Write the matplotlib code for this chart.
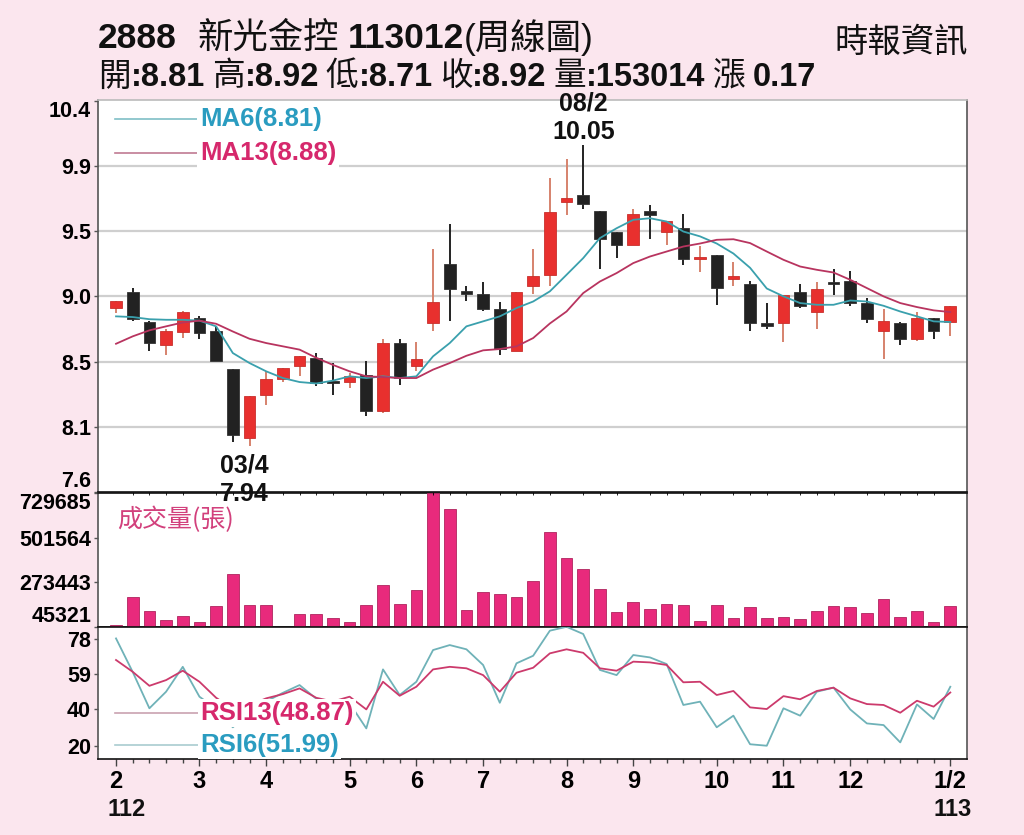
import matplotlib
matplotlib.use("Agg")
import matplotlib.pyplot as plt
import matplotlib.transforms as mtransforms
import numpy as np

# ---------------- data ----------------
opens = [8.91, 9.02, 8.81, 8.65, 8.74, 8.84, 8.75, 8.48, 8.00, 8.30,
         8.41, 8.50, 8.56, 8.40, 8.39, 8.44, 8.19, 8.66, 8.50, 8.80,
         9.22, 9.03, 9.01, 8.90, 8.61, 9.06, 9.14, 9.65, 9.70, 9.59,
         9.44, 9.35, 9.59, 9.44, 9.47, 9.25, 9.28, 9.11, 9.08, 8.80,
         8.80, 9.02, 8.88, 9.09, 9.10, 8.94, 8.75, 8.80, 8.69, 8.84, 8.81]
highs = [8.96, 9.05, 8.82, 8.76, 8.89, 8.85, 8.78, 8.48, 8.29, 8.47,
         8.49, 8.57, 8.59, 8.52, 8.45, 8.535, 8.69, 8.69, 8.67, 9.32,
         9.50, 9.06, 9.09, 8.95, 9.02, 9.32, 9.82, 9.95, 10.05, 9.59,
         9.44, 9.60, 9.63, 9.52, 9.57, 9.34, 9.28, 9.23, 9.10, 8.94,
         9.00, 9.08, 9.09, 9.18, 9.17, 8.98, 8.90, 8.81, 8.88, 8.84, 8.92]
lows = [8.875, 8.82, 8.61, 8.58, 8.70, 8.69, 8.54, 7.97, 7.94, 8.23,
        8.39, 8.43, 8.36, 8.30, 8.35, 8.15, 8.17, 8.37, 8.47, 8.745,
        8.82, 8.96, 8.89, 8.58, 8.61, 9.01, 9.06, 9.56, 9.60, 9.18,
        9.26, 9.35, 9.39, 9.35, 9.21, 9.16, 8.93, 9.06, 8.75, 8.76,
        8.67, 8.91, 8.76, 9.00, 8.92, 8.80, 8.55, 8.65, 8.68, 8.69, 8.71]
closes = [8.96, 8.83, 8.66, 8.75, 8.88, 8.73, 8.54, 8.02, 8.29, 8.41,
          8.49, 8.57, 8.38, 8.38, 8.43, 8.19, 8.66, 8.42, 8.55, 8.95,
          9.04, 9.01, 8.90, 8.62, 9.02, 9.13, 9.58, 9.68, 9.64, 9.39,
          9.35, 9.57, 9.56, 9.52, 9.25, 9.26, 9.05, 9.13, 8.80, 8.78,
          9.00, 8.92, 9.04, 9.08, 8.94, 8.83, 8.82, 8.69, 8.84, 8.75, 8.92]
ma6 = [8.85, 8.845, 8.83, 8.826, 8.826, 8.82, 8.78, 8.593, 8.523, 8.465,
       8.418, 8.39, 8.38, 8.40, 8.43, 8.418, 8.43, 8.418, 8.43, 8.57,
       8.663, 8.78, 8.815, 8.85, 8.908, 8.954, 9.025, 9.141, 9.258, 9.398,
       9.467, 9.526, 9.537, 9.514, 9.444, 9.41, 9.36, 9.29, 9.19, 9.045,
       8.99, 8.943, 8.931, 8.931, 8.961, 8.954, 8.924, 8.884, 8.85, 8.815, 8.81]
ma13 = [8.658, 8.71, 8.752, 8.78, 8.807, 8.82, 8.798, 8.744, 8.693, 8.663,
        8.64, 8.617, 8.56, 8.51, 8.465, 8.43, 8.425, 8.418, 8.418, 8.477,
        8.523, 8.574, 8.612, 8.621, 8.64, 8.698, 8.80, 8.884, 9.013, 9.094,
        9.153, 9.223, 9.269, 9.304, 9.339, 9.36, 9.386, 9.39, 9.363, 9.304,
        9.246, 9.199, 9.176, 9.157, 9.106, 9.048, 8.99, 8.943, 8.915, 8.892, 8.88]
volumes = [54000, 199000, 126400, 82800, 102600, 70700, 153000, 315500, 159000, 159000,
           40000, 109700, 109700, 89400, 69000, 159000, 258200, 164000, 232900, 729685,
           645500, 131500, 224300, 212600, 199000, 278500, 532000, 398600, 343000, 238000,
           123000, 173600, 136600, 164000, 159000, 77300, 156800, 92500, 148200, 89400,
           97500, 84300, 128000, 151800, 148200, 114600, 188800, 97500, 124900, 72200, 153014]
rsi6 = [78.2, 60.0, 40.3, 49.3, 62.8, 46.6, 40.0, 30.0, 38.0, 44.0,
        48.7, 52.9, 45.5, 42.0, 43.0, 29.4, 61.4, 47.5, 54.7, 71.9,
        74.6, 72.3, 63.8, 43.3, 64.7, 68.8, 82.4, 84.5, 80.6, 61.1,
        58.3, 69.2, 67.9, 64.3, 42.1, 43.9, 30.0, 36.3, 20.8, 20.0,
        40.3, 36.3, 49.3, 51.5, 39.7, 32.1, 31.2, 21.8, 42.4, 34.5, 51.99]
rsi13 = [66.5, 60.1, 52.5, 55.6, 60.7, 54.7, 46.0, 40.0, 42.0, 45.7,
         48.0, 51.1, 46.0, 44.0, 46.6, 39.7, 54.7, 47.1, 52.0, 61.4,
         62.8, 62.0, 58.3, 49.3, 59.6, 62.3, 70.1, 72.3, 70.4, 62.0,
         60.7, 65.6, 65.2, 63.8, 54.4, 54.7, 47.5, 49.7, 40.8, 39.9,
         46.9, 45.2, 49.7, 51.5, 45.7, 42.6, 42.1, 37.9, 44.4, 41.2, 48.87]

month_pos = [0, 5, 9, 14, 18, 22, 27, 31, 36, 40, 44, 50]
month_labels = ['2', '3', '4', '5', '6', '7', '8', '9', '10', '11', '12', '1/2']
year_labels = ['112', '113']
price_ticks = [7.62, 8.077, 8.533, 8.99, 9.447, 9.903, 10.36]
price_labels = ['7.6', '8.1', '8.5', '9.0', '9.5', '9.9', '10.4']
vol_ticks = [45321, 273443, 501564, 729685]
vol_labels = ['45321', '273443', '501564', '729685']
rsi_ticks = [20, 40, 59, 78]
rsi_labels = ['20', '40', '59', '78']

title_pieces = [('2888', 'bold', 0), ('新光金控', 'medium', 21),
                ('113012', 'bold', 8), ('(周線圖)', 'medium', 0)]
source = '時報資訊'
summary_pieces = [('開', 'medium', 0), (':8.81', 'bold', 0),
                  ('高', 'medium', 7), (':8.92', 'bold', 0),
                  ('低', 'medium', 7), (':8.71', 'bold', 0),
                  ('收', 'medium', 7), (':8.92', 'bold', 0),
                  ('量', 'medium', 7), (':153014', 'bold', 0),
                  ('漲', 'medium', 7), ('0.17', 'bold', 8)]
ma_legend = ['MA6(8.81)', 'MA13(8.88)']
rsi_legend = ['RSI13(48.87)', 'RSI6(51.99)']
vol_title = '成交量(張)'
hi_idx, hi_date, hi_val = 28, '08/2', '10.05'
lo_idx, lo_date, lo_val = 8, '03/4', '7.94'

# ---------------- style ----------------
FAM = ['Liberation Sans', 'Noto Sans CJK TC', 'DejaVu Sans']
CJK = ['Noto Sans CJK TC', 'DejaVu Sans']
plt.rcParams['font.family'] = FAM

BG = '#fbe6ee'
RED = '#e8302e'
BLACK = '#222222'
RED_WICK = '#d6826c'
TEAL = '#3aa0ad'
CRIMSON = '#b8345f'
TXT_BLUE = '#2a9cc0'
TXT_PINK = '#d6286c'
VOL = '#e82a7c'
INK = '#111111'

fig = plt.figure(figsize=(10.24, 8.35), dpi=100, facecolor=BG)
L, W = 98 / 1024, 869 / 1024
axp = fig.add_axes([L, 1 - 492 / 835, W, 392 / 835])
axv = fig.add_axes([L, 1 - 627 / 835, W, 134 / 835], sharex=axp)
axr = fig.add_axes([L, 1 - 759 / 835, W, 132 / 835], sharex=axp)
axp.set_zorder(3)   # so the price annotations overlap the volume panel border

x = np.arange(len(closes))
o = np.array(opens); c = np.array(closes)
h = np.array(highs); lo = np.array(lows)
up = c >= o

for ax in (axp, axv, axr):
    ax.set_facecolor('white')
    for s in ('left', 'right'):
        ax.spines[s].set_color('#555555')
        ax.spines[s].set_linewidth(1.2)
    for s in ('top', 'bottom'):
        ax.spines[s].set_color('#111111')
        ax.spines[s].set_linewidth(1.2)
    ax.tick_params(axis='y', direction='out', length=3, width=1, color='#555555',
                   pad=2, labelsize=15.5)
axp.spines['top'].set_color('#bbbbbb')

# ---- price panel ----
axp.set_xlim(-1.08, 51.0)
axp.set_ylim(7.62, 10.365)
axp.set_yticks(price_ticks)
axp.set_yticklabels(price_labels, fontweight='bold')
for yv in price_ticks[1:-1]:
    axp.axhline(yv, color='#cfcfcf', lw=1.6, zorder=0)

body_bottom = np.minimum(o, c)
body_h = np.maximum(np.abs(c - o), 0.014)
wick_cols = [RED_WICK if u else BLACK for u in up]
axp.vlines(x, lo, h, colors=wick_cols, lw=1.4, zorder=2)
axp.bar(x, body_h, bottom=body_bottom, width=0.7,
        color=[RED if u else BLACK for u in up],
        edgecolor=['#c8302c' if u else '#333333' for u in up], lw=0.6, zorder=3)
axp.plot(x, ma6, color=TEAL, lw=1.3, zorder=4)
axp.plot(x, ma13, color=CRIMSON, lw=1.3, zorder=4)
axp.tick_params(axis='x', bottom=False, labelbottom=False)

# legend MA
axp.plot([0.0196, 0.114], [0.951, 0.951], transform=axp.transAxes, color='#7fbfc6', lw=1.2)
axp.plot([0.0196, 0.114], [0.865, 0.865], transform=axp.transAxes, color='#c07a92', lw=1.2)
bb = dict(boxstyle='square,pad=0.12', fc='white', ec='none')
axp.text(0.1175, 0.951, ma_legend[0], transform=axp.transAxes, color=TXT_BLUE,
         fontsize=18.5, fontweight='bold', va='center', ha='left', bbox=bb, zorder=6)
axp.text(0.1175, 0.865, ma_legend[1], transform=axp.transAxes, color=TXT_PINK,
         fontsize=18.5, fontweight='bold', va='center', ha='left', bbox=bb, zorder=6)

# annotations high/low
axp.annotate(hi_date + '\n' + hi_val, xy=(hi_idx, h[hi_idx]), xytext=(0, 1),
             textcoords='offset points', ha='center', va='bottom', fontsize=18,
             fontweight='bold', linespacing=1.2, color=INK, zorder=7,
             annotation_clip=False)
axp.annotate(lo_date + '\n' + lo_val, xy=(lo_idx - 0.3, lo[lo_idx]), xytext=(0, -5),
             textcoords='offset points', ha='center', va='top', fontsize=18,
             fontweight='bold', linespacing=1.25, color=INK, zorder=7,
             annotation_clip=False)

# ---- volume panel ----
axv.set_ylim(45321, 729685)
axv.bar(x, volumes, width=0.7, color=VOL, edgecolor='#b0245e', lw=0.6, zorder=3)
axv.set_yticks(vol_ticks)
axv.set_yticklabels(vol_labels, fontweight='bold')
axv.tick_params(axis='x', bottom=False, labelbottom=False)
axv.text(0.022, 0.80, vol_title, transform=axv.transAxes, color='#d2407c',
         fontsize=18, va='center', ha='left', zorder=6, family=CJK)

# ---- RSI panel ----
axr.set_ylim(12.8, 84.4)
axr.plot(x, rsi6, color='#6fb2b8', lw=1.3, zorder=3)
axr.plot(x, rsi13, color='#cc3a6c', lw=1.3, zorder=4)
axr.set_yticks(rsi_ticks)
axr.set_yticklabels(rsi_labels, fontweight='bold')
axr.plot([0.0196, 0.117], [0.348, 0.348], transform=axr.transAxes, color='#c9a2b0', lw=1.2, zorder=5)
axr.plot([0.0196, 0.117], [0.106, 0.106], transform=axr.transAxes, color='#a9ccd0', lw=1.2, zorder=5)
rb = dict(boxstyle='square,pad=0.08', fc='white', ec='none')
axr.text(0.1175, 0.348, rsi_legend[0], transform=axr.transAxes, color=TXT_PINK,
         fontsize=18.5, fontweight='bold', va='center', ha='left', bbox=rb, zorder=6)
axr.text(0.1175, 0.106, rsi_legend[1], transform=axr.transAxes, color=TXT_BLUE,
         fontsize=18.5, fontweight='bold', va='center', ha='left', bbox=rb, zorder=6)

axr.set_xticks(month_pos)
axr.set_xticklabels(month_labels, fontweight='bold')
axr.set_xticks(x, minor=True)
axr.tick_params(axis='x', which='major', direction='out', length=5, width=1,
                color='#444444', labelsize=17, pad=3)
axr.tick_params(axis='x', which='minor', direction='out', length=3, width=1, color='#444444')

trans = mtransforms.blended_transform_factory(axr.transData, axr.transAxes)
axr.text(month_pos[0] - 0.5, -0.385, year_labels[0], transform=trans, ha='left',
         va='center', fontsize=17, fontweight='bold', color=INK)
axr.text(month_pos[-1] - 1.02, -0.385, year_labels[1], transform=trans, ha='left',
         va='center', fontsize=17, fontweight='bold', color=INK)

# edge tick labels kept inside the panel
for ax in (axp, axv):
    lbls = ax.get_yticklabels()
    lbls[0].set_va('bottom')
    lbls[-1].set_va('top')

# ---- header ----
def chain(x0, y0, pieces, size):
    txt, wt, _ = pieces[0]
    prev = fig.text(x0, y0, txt, fontsize=size, fontweight=wt, va='center',
                    ha='left', color=INK)
    for txt, wt, gap in pieces[1:]:
        prev = axp.annotate(txt, xy=(1, 0.5), xycoords=prev, xytext=(gap, 0),
                            textcoords='offset pixels', fontsize=size, fontweight=wt,
                            va='center', ha='left', color=INK, annotation_clip=False)

chain(98 / 1024, 1 - 38 / 835, title_pieces, 25.5)
chain(98 / 1024, 1 - 77 / 835, summary_pieces, 23.5)
fig.text(968 / 1024, 1 - 42 / 835, source, fontsize=24, va='center', ha='right',
         color=INK, family=CJK, fontweight='medium')

fig.savefig('out.png', dpi=100, facecolor=BG)
